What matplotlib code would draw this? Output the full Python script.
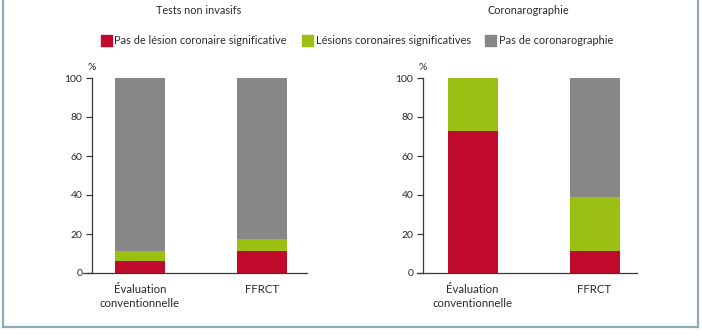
import matplotlib.pyplot as plt
from matplotlib.lines import Line2D
from matplotlib.patches import Rectangle

plt.rcParams["font.family"] = ["Lato", "DejaVu Sans"]

categories = ["Évaluation\nconventionnelle", "FFRCT"]
panel_titles = ["Tests non invasifs", "Coronarographie"]
series_names = ["Pas de lésion coronaire significative",
                "Lésions coronaires significatives",
                "Pas de coronarographie"]

# valeurs (%)
tests_sans_lesion = [6, 11.5]
tests_lesions = [5.5, 6]
tests_pas_coro = [88.5, 82.5]

coro_sans_lesion = [73, 11.5]
coro_lesions = [27, 27.5]
coro_pas_coro = [0, 61]

yticks = [0, 20, 40, 60, 80, 100]

RED = "#c10a2b"
GREEN = "#9bbf13"
GREY = "#878787"
AXC = "#3a3a3a"
TXT = "#2b2b2b"
FRAME = "#8aabbd"

W, H = 702, 336
fig = plt.figure(figsize=(W / 100, H / 100), dpi=100)


def px_axes(x0, x1, y_top, y_bot):
    return fig.add_axes([x0 / W, (H - y_bot) / H, (x1 - x0) / W, (y_bot - y_top) / H])


panels = [
    (px_axes(83, 307, 78, 273), (-0.467, 1.369), -0.393,
     [tests_sans_lesion, tests_lesions, tests_pas_coro], 199),
    (px_axes(417, 637, 78, 273), (-0.455, 1.348), -0.406,
     [coro_sans_lesion, coro_lesions, coro_pas_coro], 528),
]

x = [0, 1]
for i, (ax, xlim, spine_x, series, title_x) in enumerate(panels):
    bottom = [0, 0]
    for vals, col in zip(series, [RED, GREEN, GREY]):
        ax.bar(x, vals, width=0.41, bottom=bottom, color=col, linewidth=0)
        bottom = [b + v for b, v in zip(bottom, vals)]
    ax.set_xlim(*xlim)
    ax.set_ylim(0, 100)
    ax.spines["top"].set_visible(False)
    ax.spines["right"].set_visible(False)
    ax.spines["left"].set_position(("data", spine_x))
    for s in ["left", "bottom"]:
        ax.spines[s].set_color(AXC)
        ax.spines[s].set_linewidth(0.9)
    ax.spines["left"].set_bounds(0, 100)
    ax.set_yticks(yticks)
    ax.set_yticklabels([str(t) for t in yticks], fontsize=7.5, color=TXT)
    ax.tick_params(axis="y", length=4, width=0.9, color=AXC, pad=3)
    ax.set_xticks(x)
    ax.set_xticklabels(categories, fontsize=8.2, color=TXT, linespacing=1.3)
    ax.tick_params(axis="x", length=0, pad=8)
    ax.text(spine_x, 103, "%", ha="center", va="bottom", fontsize=7.5,
            color=TXT, transform=ax.transData, clip_on=False)
    fig.text(title_x / W, 1 - 10 / H, panel_titles[i], ha="center", va="center",
             fontsize=7.8, color=TXT)

# légende
leg_items = [(101, 114, series_names[0], RED),
             (302, 316, series_names[1], GREEN),
             (485, 499, series_names[2], GREY)]
for sx, tx, label, col in leg_items:
    fig.patches.append(Rectangle((sx / W, 1 - 46 / H), 11 / W, 11 / H, color=col,
                                 transform=fig.transFigure, figure=fig))
    fig.text(tx / W, 1 - 40.5 / H, label, ha="left", va="center",
             fontsize=7.9, color=TXT)

# cadre
for xs, ys in [([3, 3], [0, 327]), ([698, 698], [0, 327]), ([3, 698], [327, 327])]:
    fig.lines.append(Line2D([v / W for v in xs], [1 - v / H for v in ys],
                            transform=fig.transFigure, color=FRAME, linewidth=1.6))

fig.savefig("out.png", dpi=100)
